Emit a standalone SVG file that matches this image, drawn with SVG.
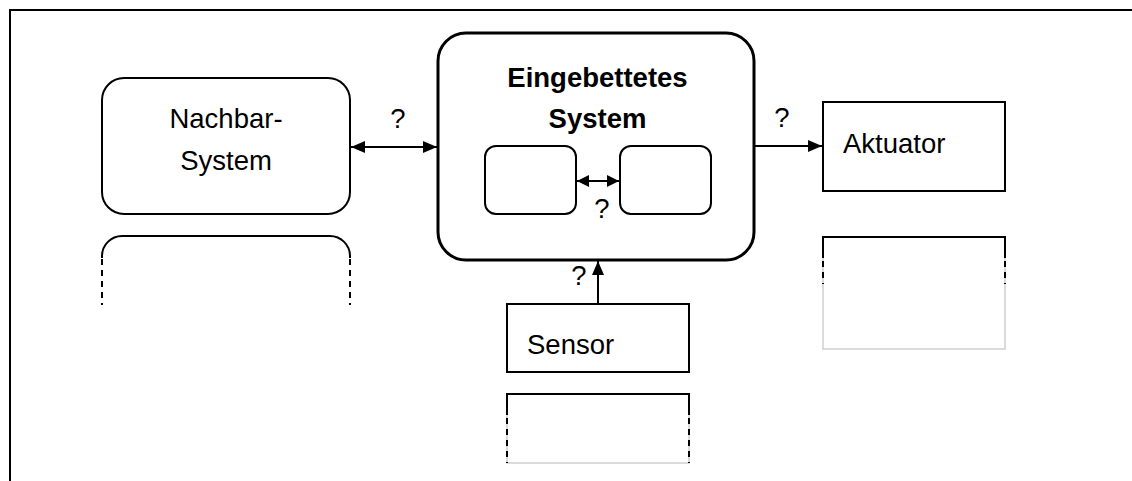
<svg xmlns="http://www.w3.org/2000/svg" width="1132" height="481" viewBox="0 0 1132 481">
<defs>
<style>
.t{font-family:"Liberation Sans",Arial,sans-serif;font-size:27.5px;fill:#000}
.b{font-weight:bold}
.box{fill:#fff;stroke:#000;stroke-width:2}
.ln{fill:none;stroke:#000;stroke-width:2}
.dash{fill:none;stroke:#000;stroke-width:2;stroke-dasharray:6 5}
.gray{fill:none;stroke:#c8c8c8;stroke-width:1.3}
</style>
<marker id="ah" viewBox="0 0 14 12" refX="14" refY="6" markerWidth="14" markerHeight="12" markerUnits="userSpaceOnUse" orient="auto-start-reverse">
<path d="M0,0 L14,6 L0,12 z" fill="#000"/>
</marker>
<marker id="ahs" viewBox="0 0 12 12" refX="12" refY="6" markerWidth="12" markerHeight="12" markerUnits="userSpaceOnUse" orient="auto-start-reverse">
<path d="M0,0 L12,6 L0,12 z" fill="#000"/>
</marker>
</defs>
<rect width="1132" height="481" fill="#fff"/>
<g id="frame">
<path d="M10,481 V10 H1132" fill="none" stroke="#000" stroke-width="2"/>
</g>
<g id="nachbar">
<rect class="box" x="102" y="78" width="248" height="136" rx="22"/>
<text class="t" x="226" y="128" text-anchor="middle">Nachbar-</text>
<text class="t" x="226" y="170" text-anchor="middle">System</text>
</g>
<g id="nachbar2">
<path class="ln" d="M102,258 V256 A20,20 0 0 1 122,236 H330 A20,20 0 0 1 350,256 V258"/>
<path class="dash" d="M102,259 V305"/>
<path class="dash" d="M350,259 V305"/>
</g>
<g id="embedded">
<rect x="438" y="33" width="316" height="227" rx="28" fill="#fff" stroke="#000" stroke-width="3"/>
<text class="t b" x="597.5" y="87" text-anchor="middle">Eingebettetes</text>
<text class="t b" x="597.5" y="128" text-anchor="middle">System</text>
</g>
<g id="inner1">
<rect class="box" x="485" y="146" width="91" height="68" rx="11"/>
</g>
<g id="inner2">
<rect class="box" x="620" y="146" width="91" height="68" rx="11"/>
</g>
<g id="aktuator">
<rect class="box" x="823" y="102" width="182" height="89"/>
<text class="t" x="843" y="153">Aktuator</text>
</g>
<g id="aktuator2">
<rect class="gray" x="823" y="237" width="182" height="112"/>
<path class="ln" d="M823,258 V237 H1005 V258"/>
<path class="dash" d="M823,261 V284"/>
<path class="dash" d="M1005,261 V284"/>
</g>
<g id="sensor">
<rect class="box" x="507" y="304" width="182" height="68"/>
<text class="t" x="527" y="354">Sensor</text>
</g>
<g id="sensor2">
<rect class="gray" x="507" y="394" width="182" height="69"/>
<path class="ln" d="M507,415 V394 H689 V415"/>
<path class="dash" d="M507,418 V463"/>
<path class="dash" d="M689,418 V463"/>
</g>
<g id="connectors">
<line class="ln" x1="351" y1="147" x2="437" y2="147" marker-start="url(#ah)" marker-end="url(#ah)"/>
<line class="ln" x1="577" y1="181" x2="619" y2="181" marker-start="url(#ahs)" marker-end="url(#ahs)"/>
<line class="ln" x1="755" y1="146" x2="822" y2="146" marker-end="url(#ah)"/>
<line class="ln" x1="598" y1="304" x2="598" y2="261" marker-end="url(#ah)"/>
<text class="t" x="398" y="128" text-anchor="middle">?</text>
<text class="t" x="602" y="218" text-anchor="middle">?</text>
<text class="t" x="782" y="127" text-anchor="middle">?</text>
<text class="t" x="579" y="285" text-anchor="middle">?</text>
</g>
</svg>
